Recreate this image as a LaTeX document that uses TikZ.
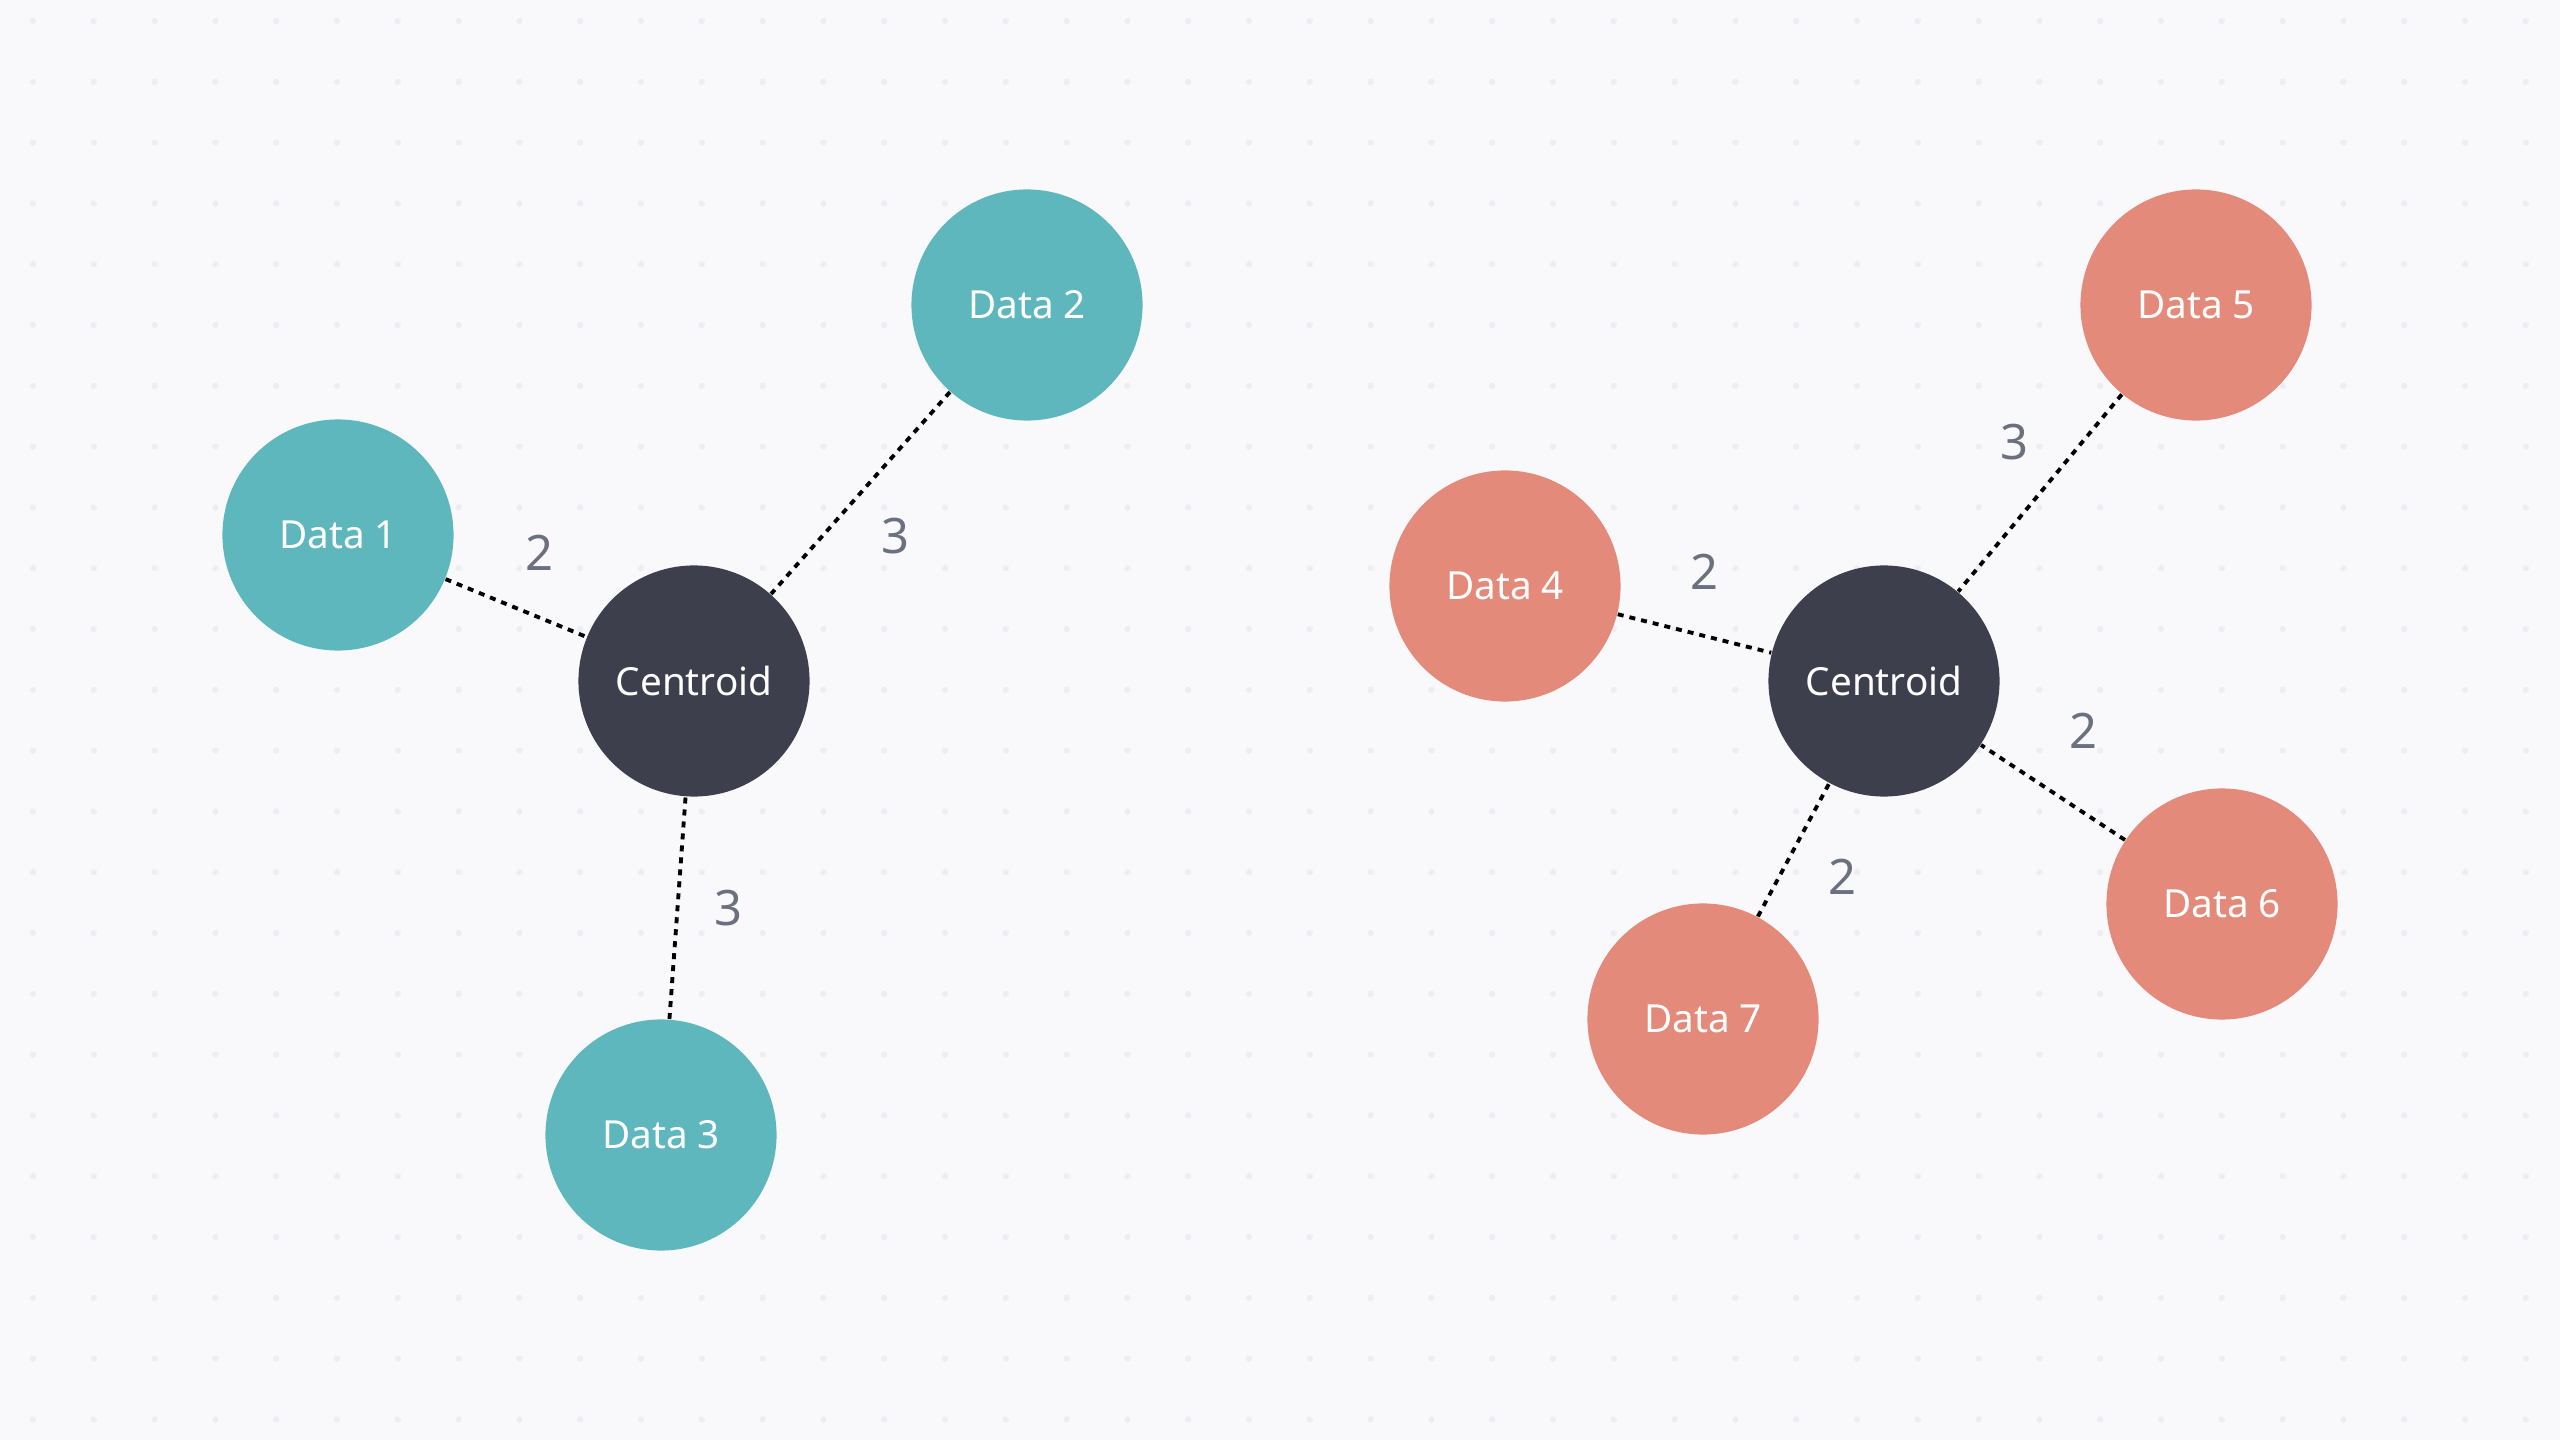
\documentclass[tikz,border=0pt]{standalone}
\usepackage{fontspec}
\setmainfont{Noto Sans}
\usepackage{xcolor}
\definecolor{myteal}{RGB}{95,183,190}
\definecolor{mysalmon}{RGB}{227,138,123}
\definecolor{mydark}{RGB}{62,63,77}
\definecolor{mybg}{RGB}{249,249,252}
\definecolor{mydot}{RGB}{236,238,243}
\definecolor{mygray}{RGB}{107,112,128}
\usepackage{tikz}

\begin{document}
\begin{tikzpicture}[x=0.01cm,y=-0.01cm,line cap=butt]
	\tikzstyle{pt}=[circle,inner sep=0pt,minimum size=2.31cm,text=white,font=\fontsize{11pt}{13pt}\selectfont];
	\tikzstyle{cen}=[pt,fill=mydark];
	\tikzstyle{tl}=[pt,fill=myteal];
	\tikzstyle{sl}=[pt,fill=mysalmon];
	\tikzstyle{dist}=[text=mygray,font=\fontsize{13.9pt}{16pt}\selectfont];
	\tikzstyle{link}=[black,line width=1.1pt,dash pattern=on 0.06cm off 0.06cm];
	%% Background
	\fill[mybg] (0,0) rectangle (2560,1440);
	\useasboundingbox (0,0) rectangle (2560,1440);
	%% Dot Grid
	\foreach \i in {0,...,41}
		\foreach \j in {0,...,23}
			\fill[mydot] ({33+60.8*\i},{21+60.8*\j}) circle[radius=0.9pt];
	%% Left Cluster
	\node[cen] (c1) at (694,681) {Centroid};
	\node[tl] (d1) at (338,535) {Data 1};
	\node[tl] (d2) at (1027,305) {Data 2};
	\node[tl] (d3) at (661,1135) {Data 3};
	%% Right Cluster
	\node[cen] (c2) at (1884,681) {Centroid};
	\node[sl] (d4) at (1505,586) {Data 4};
	\node[sl] (d5) at (2196,305) {Data 5};
	\node[sl] (d6) at (2222,904) {Data 6};
	\node[sl] (d7) at (1703,1019) {Data 7};
	%% Distances
	\draw[link] (d1) -- (c1);
	\draw[link] (d2) -- (c1);
	\draw[link] (d3) -- (c1);
	\draw[link] (d4) -- (c2);
	\draw[link] (d5) -- (c2);
	\draw[link] (d6) -- (c2);
	\draw[link] (d7) -- (c2);
	%% Labels
	\node[dist] (l1) at (539,553) {2};
	\node[dist] (l2) at (895,536) {3};
	\node[dist] (l3) at (728,908) {3};
	\node[dist] (l4) at (1704,572) {2};
	\node[dist] (l5) at (2014,442) {3};
	\node[dist] (l6) at (2083,731) {2};
	\node[dist] (l7) at (1842,877) {2};
\end{tikzpicture}
\end{document}
